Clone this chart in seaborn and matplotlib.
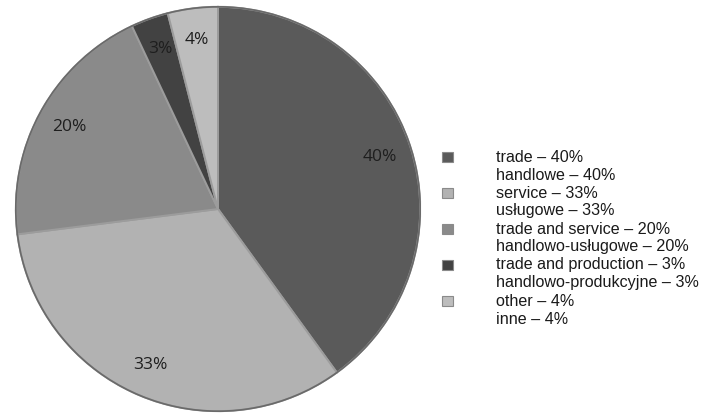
import matplotlib
matplotlib.use("Agg")
import matplotlib.pyplot as plt
import seaborn as sns
from matplotlib.patches import Rectangle, Circle

# Business profile shares
categories_en = ["trade", "service", "trade and service", "trade and production", "other"]
categories_pl = ["handlowe", "usługowe", "handlowo-usługowe", "handlowo-produkcyjne", "inne"]
shares = [40, 33, 20, 3, 4]
colors = ["#5a5a5a", "#b2b2b2", "#8a8a8a", "#424242", "#bdbdbd"]

sns.set_theme(style="white")
plt.rcParams["font.family"] = ["Liberation Sans", "DejaVu Sans"]

W, H = 714, 416
fig = plt.figure(figsize=(W / 100, H / 100), dpi=100)
fig.patch.set_facecolor("white")

cx, cy, r = 218, 209, 203
ax = fig.add_axes([(cx - r) / W, (H - cy - r) / H, 2 * r / W, 2 * r / H])

wedges, texts, autotexts = ax.pie(
    shares,
    colors=colors,
    startangle=90,
    counterclock=False,
    autopct=lambda p: f"{p:.0f}%",
    pctdistance=0.84,
    wedgeprops=dict(edgecolor="#9c9c9c", linewidth=1.4),
    textprops=dict(fontsize=12.5, color="#1e1e1e", family=["Open Sans", "DejaVu Sans"]),
)
# soft outer rim
ax.add_patch(Circle((0, 0), 1.0, fill=False, edgecolor="#6a6a6a", linewidth=1.2))
ax.set_aspect("equal")
ax.set_xlim(-1.004, 1.004)
ax.set_ylim(-1.004, 1.004)
ax.axis("off")

# Legend: two text lines per entry, square marker per entry
leg = fig.add_axes([0, 0, 1, 1])
leg.set_xlim(0, W)
leg.set_ylim(H, 0)
leg.axis("off")
x_box, x_text, y0, pitch = 442, 496, 157, 18
for k, (en, pl, v, c) in enumerate(zip(categories_en, categories_pl, shares, colors)):
    y = y0 + 2 * k * pitch
    leg.add_patch(Rectangle((x_box, y - 5), 11, 10, facecolor=c, edgecolor="#8a8a8a", linewidth=0.8))
    leg.text(x_text, y, f"{en} – {v}%", fontsize=11.6, color="#1a1a1a", va="center", ha="left")
    leg.text(x_text, y + pitch, f"{pl} – {v}%", fontsize=11.6, color="#1a1a1a", va="center", ha="left")

fig.savefig("out.png", dpi=100)
